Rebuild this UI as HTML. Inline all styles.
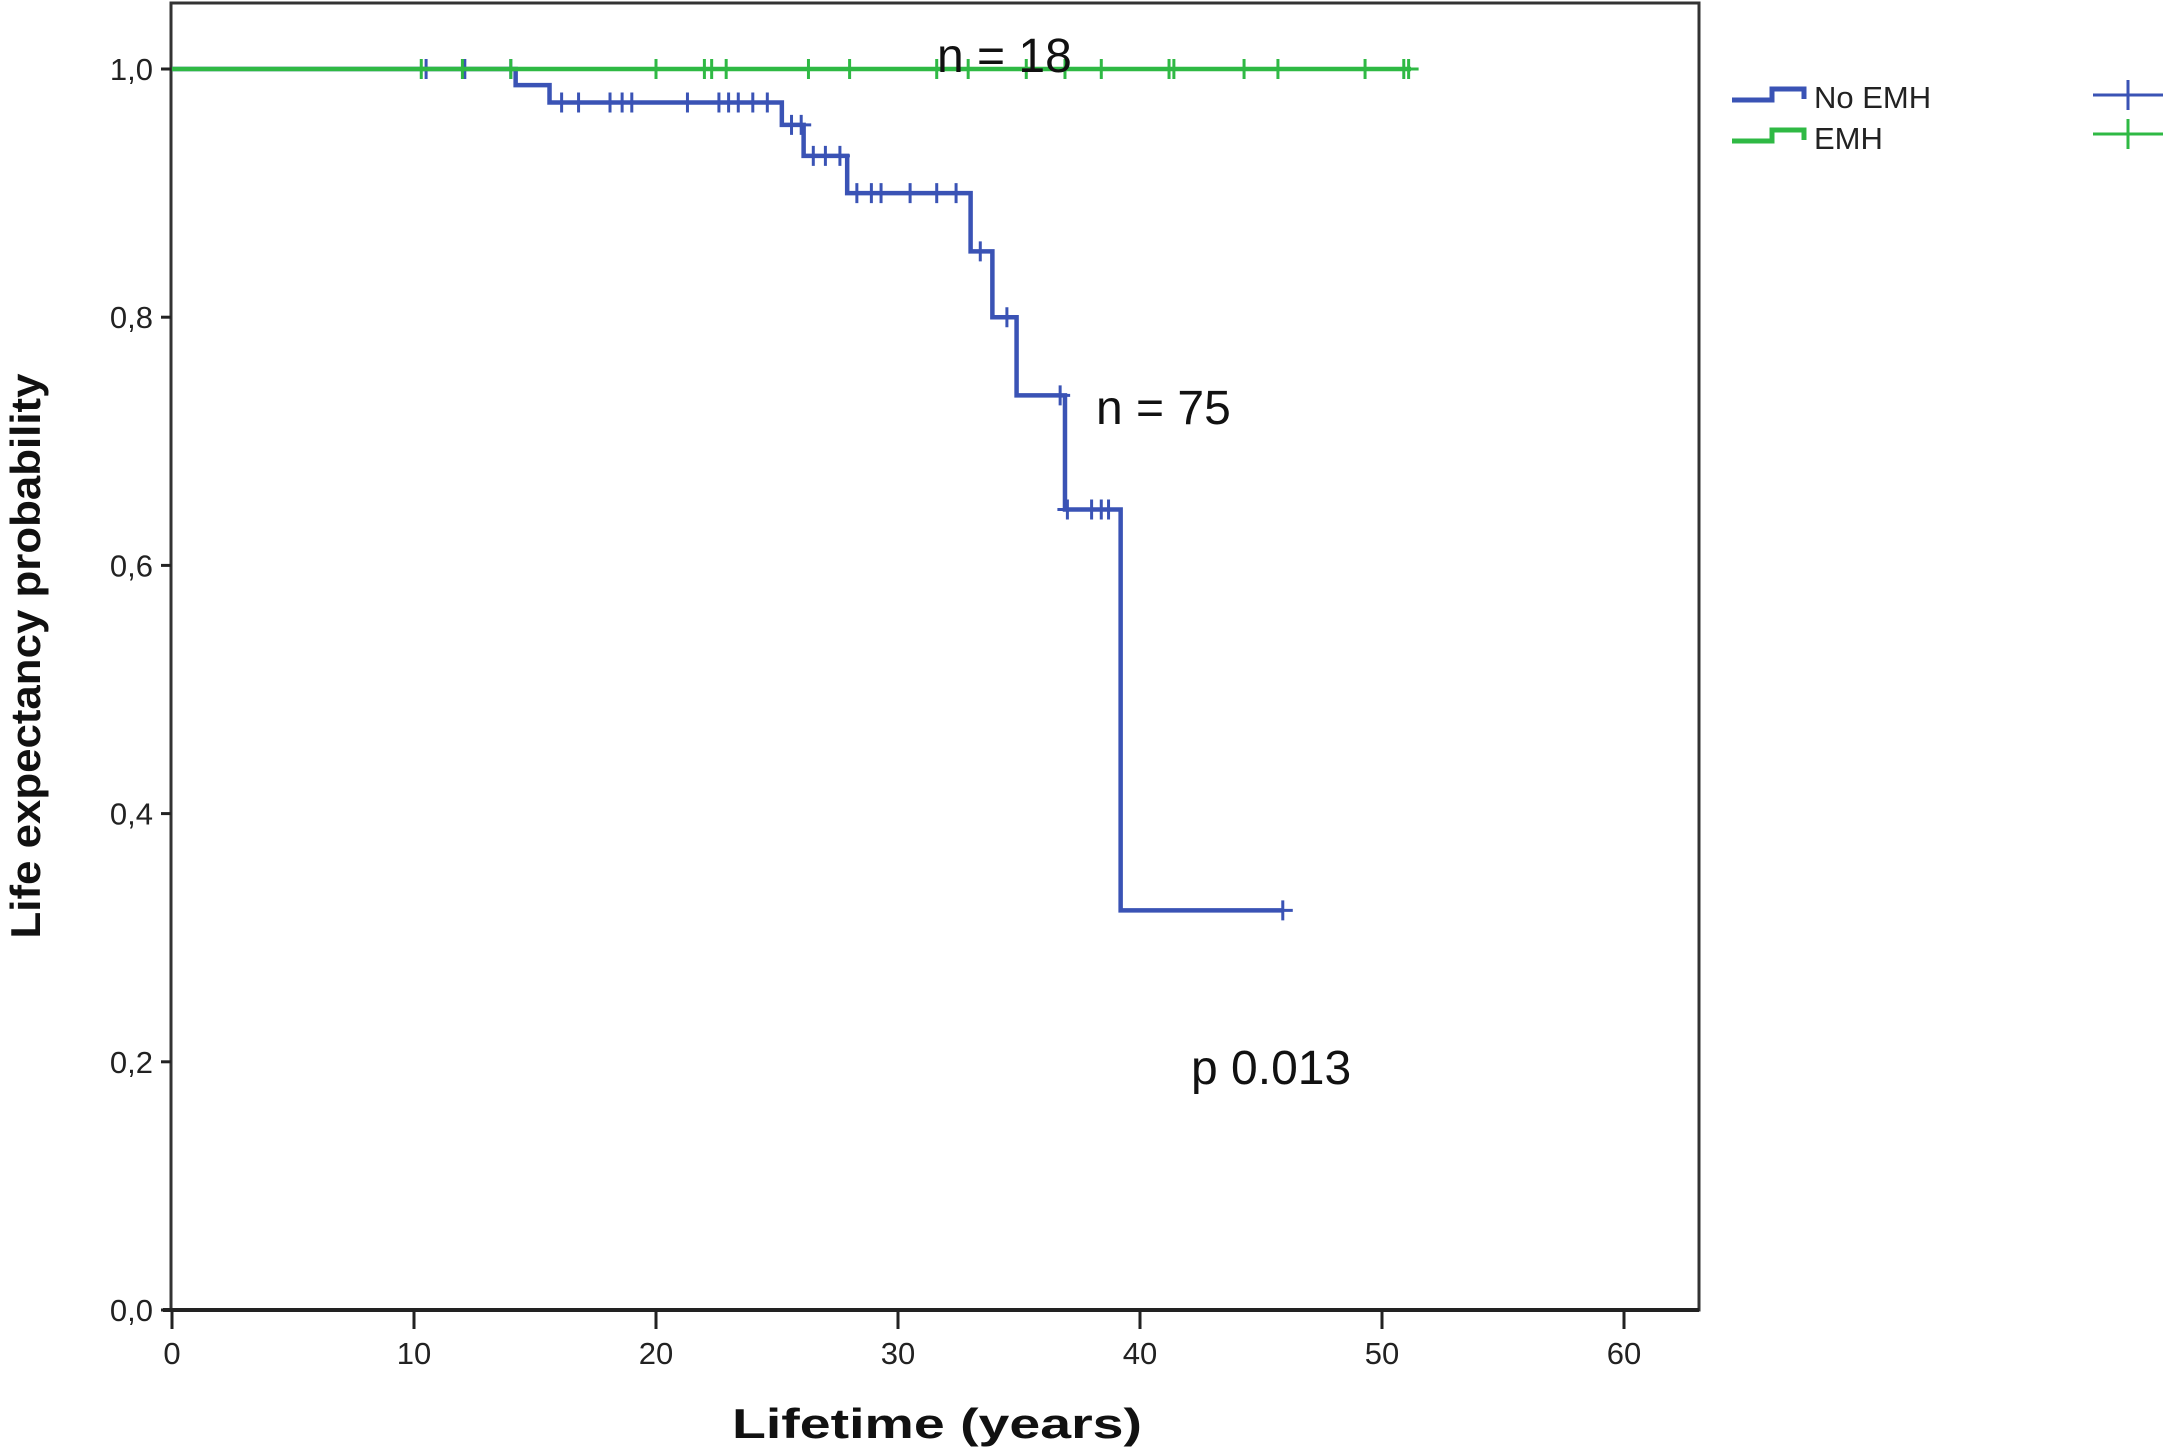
<!DOCTYPE html>
<html><head><meta charset="utf-8"><style>
html,body{margin:0;padding:0;background:#fff;}
svg{display:block;font-family:"Liberation Sans",Arial,sans-serif;}
</style></head><body>
<svg id="chart" width="2167" height="1449" viewBox="0 0 2167 1449">
<g id="axes"></g><g id="series"></g><g id="labels"></g>
<g font-family="Liberation Sans, Arial, sans-serif">
 <path d="M1732,100 H1772 V89 H1804 V99" fill="none" stroke="#3a53b5" stroke-width="5"/>
 <text x="1814" y="108" font-size="31" fill="#222">No EMH</text>
 <path d="M2093,95 H2163 M2128,80 V110" stroke="#3a53b5" stroke-width="3" fill="none"/>
 <path d="M1732,141 H1772 V130 H1804 V140" fill="none" stroke="#2fb944" stroke-width="5"/>
 <text x="1814" y="149" font-size="31" fill="#222">EMH</text>
 <path d="M2093,134 H2163 M2128,119 V149" stroke="#2fb944" stroke-width="3" fill="none"/>
</g>
<g font-family="Liberation Sans, Arial, sans-serif" fill="#111">
 <text x="937" y="72" font-size="48">n = 18</text>
 <text x="1096" y="424" font-size="48">n = 75</text>
 <text x="1191" y="1084" font-size="48">p 0.013</text>
 <text x="937" y="1438" font-size="42" font-weight="bold" text-anchor="middle" textLength="410" lengthAdjust="spacingAndGlyphs">Lifetime (years)</text>
 <text transform="translate(40,656) rotate(-90)" font-size="42" font-weight="bold" text-anchor="middle" textLength="565" lengthAdjust="spacingAndGlyphs">Life expectancy probability</text>
</g>
</svg>
<script>
const xTicks=[0,10,20,30,40,50,60];
const yTicks=[0,0.2,0.4,0.6,0.8,1.0];
const yTickLabels=["0,0","0,2","0,4","0,6","0,8","1,0"];
const blueStepTimes=[0,14.2,15.6,25.2,26.1,27.9,33.0,33.9,34.9,36.9,39.2];
const blueStepVals=[1.0,0.987,0.973,0.955,0.93,0.90,0.853,0.80,0.737,0.645,0.322];
const blueEnd=45.9;
const blueCensor=[10.5,12.1,14.0,16.1,16.8,18.1,18.6,19.0,21.3,22.6,23.0,23.4,24.0,24.6,25.6,26.0,26.5,27.0,27.6,28.3,28.9,29.3,30.5,31.6,32.4,33.4,34.5,36.7,37.0,38.0,38.4,38.7,45.9];
const greenStepTimes=[0];
const greenStepVals=[1.0];
const greenEnd=51.2;
const greenCensor=[10.3,12.0,14.0,20.0,22.0,22.3,22.9,26.3,28.0,31.6,32.9,35.3,36.9,38.4,41.2,41.4,44.3,45.7,49.3,50.9,51.1];

const NS="http://www.w3.org/2000/svg";
const X0=172,X60=1624,Y0=1310,Y1=69,LEFT=171,RIGHT=1699,TOP=3;
const sx=v=>X0+(X60-X0)*v/60;
const sy=v=>Y0-(Y0-Y1)*v;
function mk(tag,attrs,parent){const e=document.createElementNS(NS,tag);for(const k in attrs)e.setAttribute(k,attrs[k]);parent.appendChild(e);return e;}
const axes=document.getElementById('axes'),series=document.getElementById('series'),labels=document.getElementById('labels');

let frame=mk('rect',{x:LEFT,y:TOP,width:RIGHT-LEFT,height:Y0-TOP,fill:'none',stroke:'#333','stroke-width':3},axes);


let xl=mk('line',{x1:LEFT-8,x2:RIGHT,y1:Y0,y2:Y0,stroke:'#222','stroke-width':4},axes);


xTicks.forEach(t=>{
  let l=mk('line',{x1:sx(t),x2:sx(t),y1:Y0,y2:Y0+19,stroke:'#222','stroke-width':3},axes);
  
  
  let tx=mk('text',{x:sx(t),y:Y0+54,'text-anchor':'middle','font-size':31,fill:'#222'},labels);
  tx.textContent=t;
  
  
});
yTicks.forEach((t,i)=>{
  let l=mk('line',{x1:LEFT-10,x2:LEFT,y1:sy(t),y2:sy(t),stroke:'#222','stroke-width':3},axes);
  
  
  let tx=mk('text',{x:LEFT-18,y:sy(t)+11,'text-anchor':'end','font-size':31,fill:'#222'},labels);
  tx.textContent=yTickLabels[i];
  
  
});
function stepAt(times,vals,t){let v=vals[0];for(let i=0;i<times.length;i++){if(times[i]<=t)v=vals[i];}return v;}
function drawSeries(times,vals,end,cens,color,name){
  let d=`M${sx(0)},${sy(vals[0])}`;
  for(let i=1;i<times.length;i++){d+=` H${sx(times[i])} V${sy(vals[i])}`;}
  d+=` H${sx(end)}`;
  let p=mk('path',{d:d,fill:'none',stroke:color,'stroke-width':4.5},series);
  
  
  cens.forEach(c=>{
    const x=sx(c),y=sy(stepAt(times,vals,c));
    let g=mk('path',{d:`M${x-10},${y} H${x+10} M${x},${y-10} V${y+10}`,stroke:color,'stroke-width':3,fill:'none'},series);
    
    
  });
}
drawSeries(blueStepTimes,blueStepVals,blueEnd,blueCensor,'#3a53b5','no-emh');
drawSeries(greenStepTimes,greenStepVals,greenEnd,greenCensor,'#2fb944','emh');
</script>
</body></html>
